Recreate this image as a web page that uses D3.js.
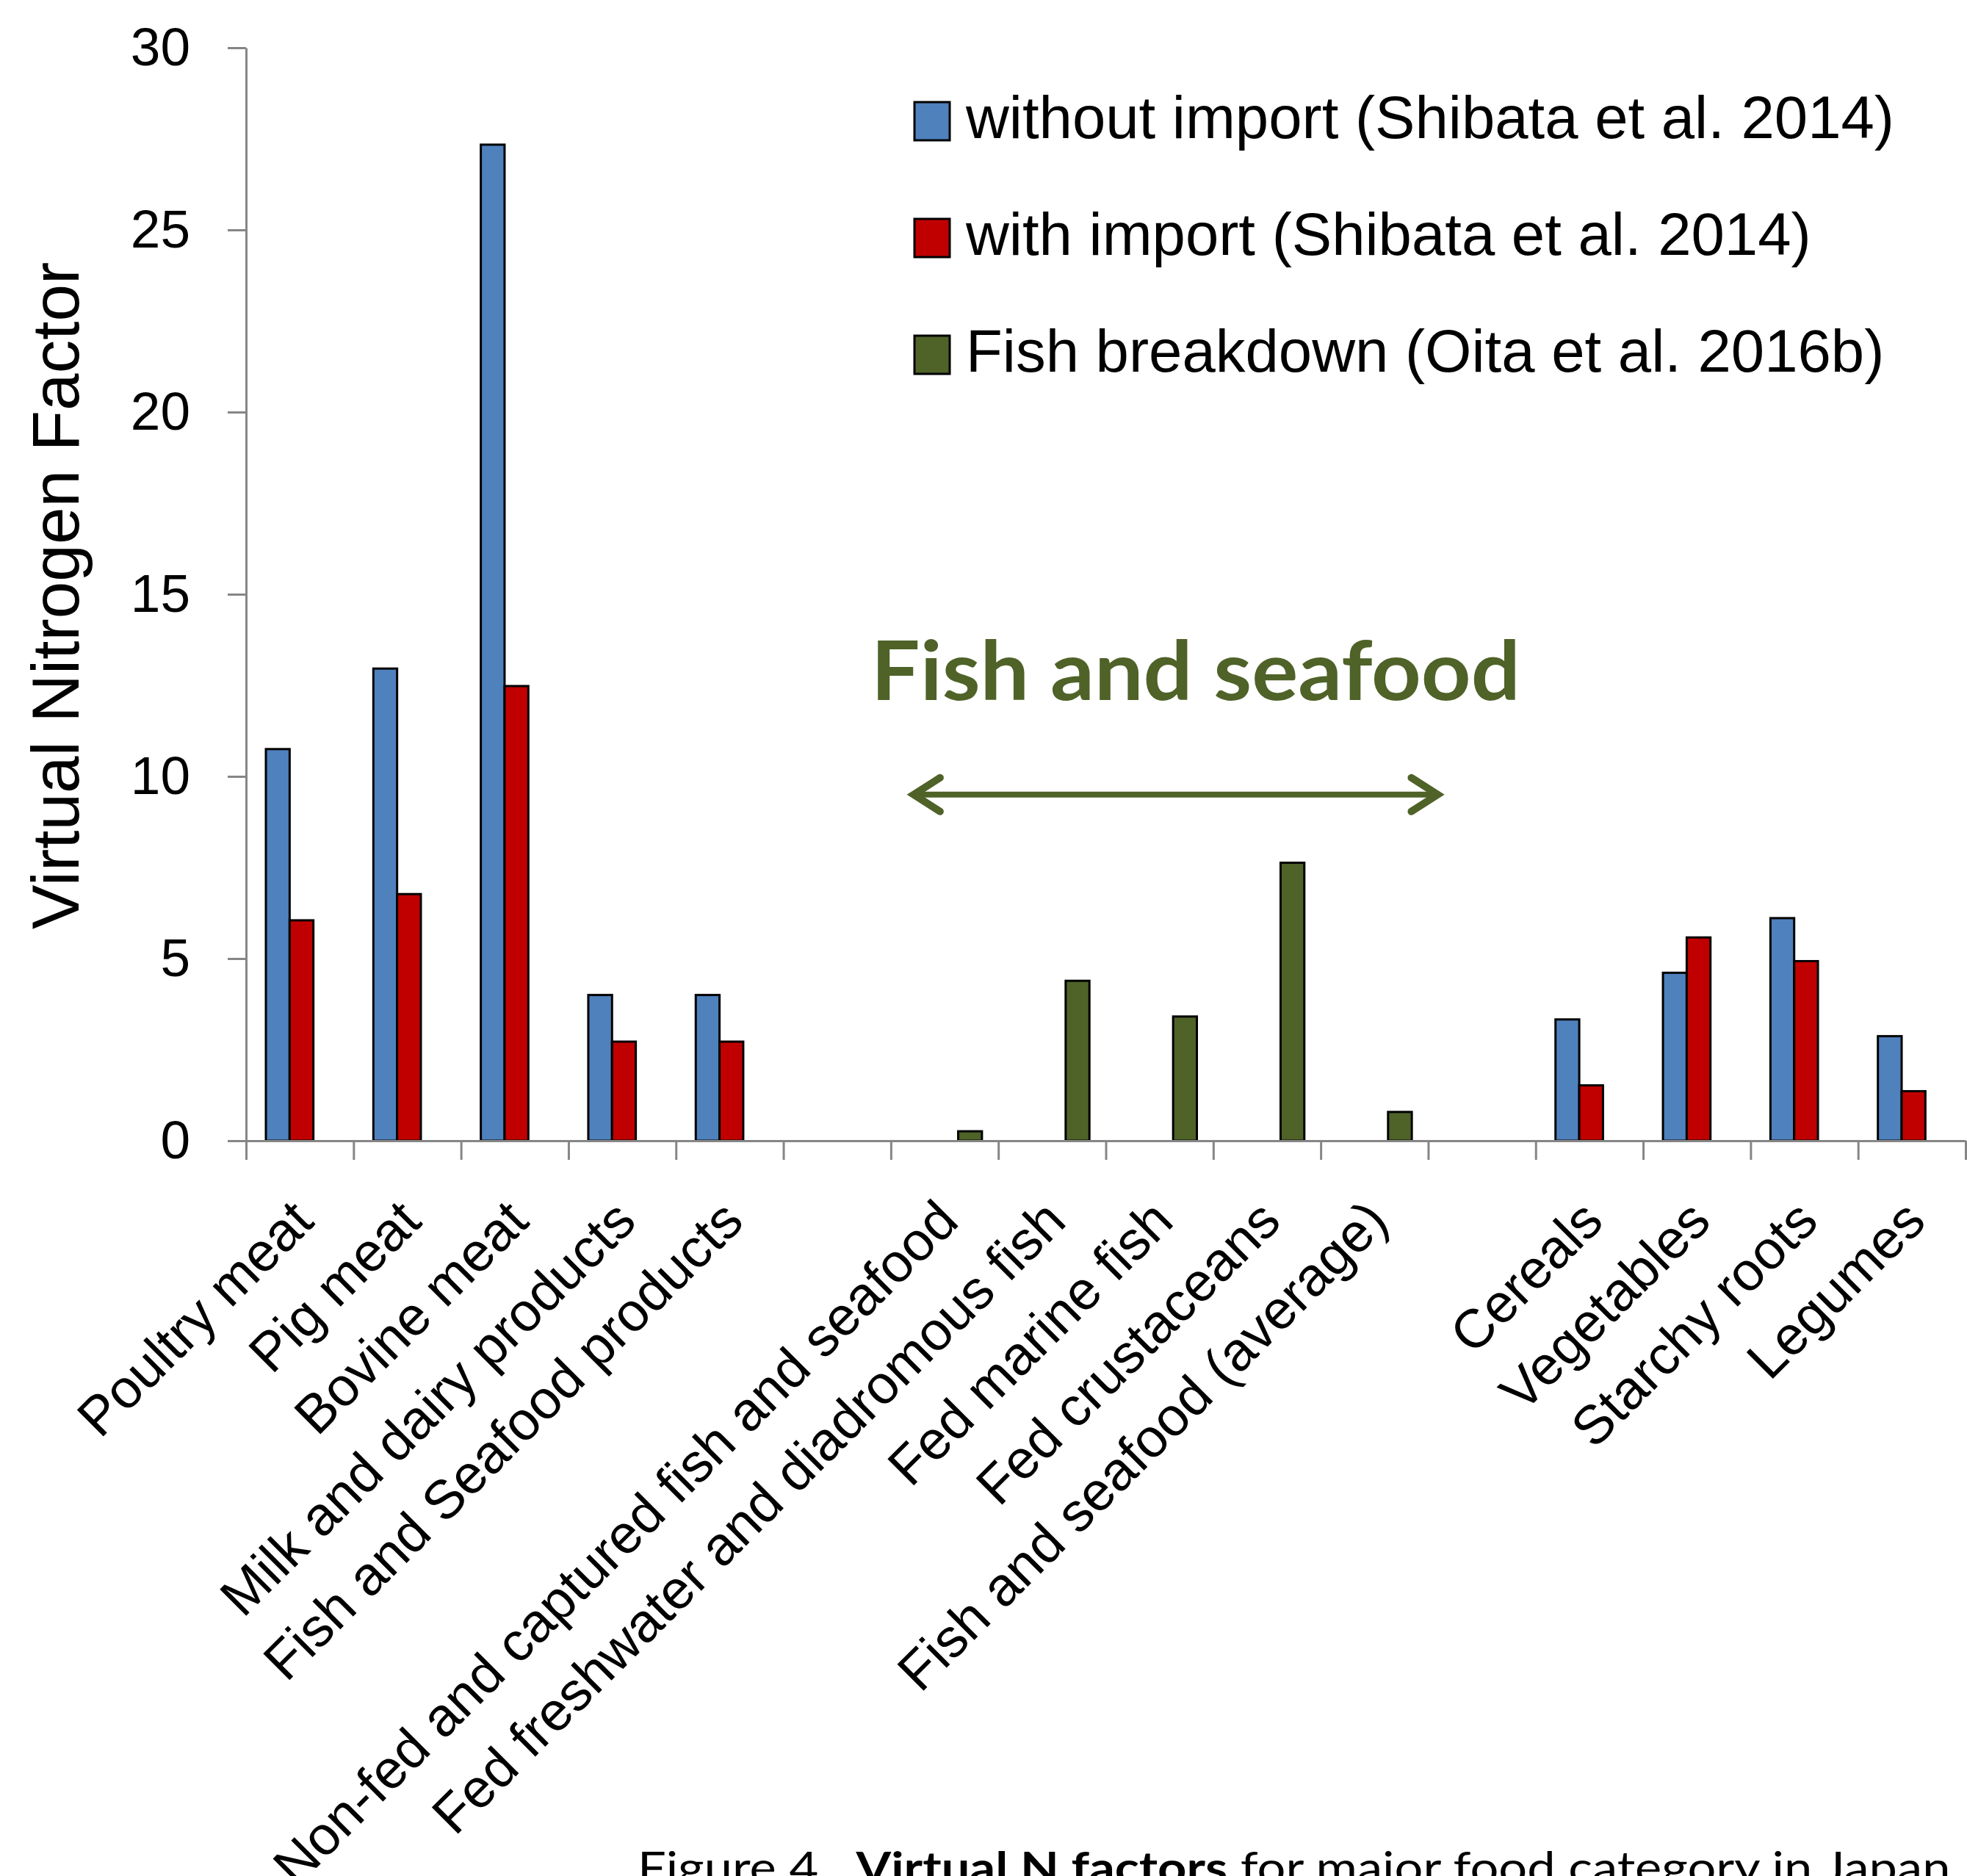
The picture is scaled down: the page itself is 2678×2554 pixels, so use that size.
<!DOCTYPE html>
<html>
<head>
<meta charset="utf-8">
<script src="https://cdn.jsdelivr.net/npm/d3@7"></script>
<style>
  html, body { margin: 0; padding: 0; background: #fff; }
  svg { display: block; }
</style>
</head>
<body>
<script>
// ---------------- DATA ----------------
const categories = [
  "Poultry meat", "Pig meat", "Bovine meat", "Milk and dairy products",
  "Fish and Seafood products", "",
  "Non-fed and captured fish and seafood", "Fed freshwater and diadromous fish",
  "Fed marine fish", "Fed crustaceans", "Fish and seafood (average)", "",
  "Cereals", "Vegetables", "Starchy roots", "Legumes"
];
const withoutImport = [10.75, 12.96, 27.34, 4.0, 4.0, null, null, null, null, null, null, null, 3.33, 4.61, 6.11, 2.87];
const withImport    = [6.05, 6.77, 12.48, 2.72, 2.72, null, null, null, null, null, null, null, 1.52, 5.58, 4.93, 1.36];
const fishBreakdown = [null, null, null, null, null, null, 0.26, 4.39, 3.41, 7.63, 0.79, null, null, null, null, null];
const seriesNames = [
  "without import (Shibata et al. 2014)",
  "with import (Shibata et al. 2014)",
  "Fish breakdown (Oita et al. 2016b)"
];
const seriesColors = ["#4F81BD", "#C00000", "#4F6228"];
const yTicks = [0, 5, 10, 15, 20, 25, 30];
const yTitle = "Virtual Nitrogen Factor";
const annotationText = "Fish and seafood";
const captionParts = [
  {t: "Figure 4.  ", bold: false},
  {t: "Virtual N factors", bold: true},
  {t: " for major food category in Japan", bold: false}
];

// ---------------- CHART ----------------
const W = 2678, H = 2554;
const FONT = "'Liberation Sans', Arial, sans-serif";
const svg = d3.select("body").append("svg").attr("width", W).attr("height", H);
svg.append("rect").attr("width", W).attr("height", H).attr("fill", "#fff");

const series = [withoutImport, withImport, fishBreakdown];
const seriesKeys = d3.range(series.length);

const x = d3.scaleBand().domain(d3.range(categories.length)).range([335, 2676]).paddingInner(0).paddingOuter(0);
const x1 = d3.scaleBand().domain(seriesKeys).range([27, 124]);
const y = d3.scaleLinear().domain([0, 30]).range([1553, 65]);

// bars
const barData = [];
series.forEach((arr, s) => arr.forEach((v, i) => { if (v != null) barData.push({s, i, v}); }));
svg.append("g").selectAll("rect").data(barData).join("rect")
  .attr("x", d => x(d.i) + x1(d.s))
  .attr("y", d => y(d.v))
  .attr("width", x1.bandwidth())
  .attr("height", d => y(0) - y(d.v))
  .attr("fill", d => seriesColors[d.s])
  .attr("stroke", "#000")
  .attr("stroke-width", 3);

// y axis
const gy = svg.append("g").attr("transform", `translate(${x.range()[0]},0)`)
  .call(d3.axisLeft(y).tickValues(yTicks).tickSize(25).tickSizeOuter(0).tickPadding(51));
gy.select(".domain").attr("stroke", "#868686").attr("stroke-width", 3);
gy.selectAll(".tick line").attr("stroke", "#868686").attr("stroke-width", 3);
gy.selectAll(".tick text").attr("font-family", FONT).attr("font-size", 73).attr("fill", "#000");

// x axis (ticks at category boundaries)
const xEdges = d3.scaleLinear().domain([0, categories.length]).range(x.range());
const gx = svg.append("g").attr("transform", `translate(0,${y(0)})`)
  .call(d3.axisBottom(xEdges).tickValues(d3.range(categories.length + 1)).tickSize(26).tickSizeOuter(0).tickFormat(""));
gx.select(".domain").attr("stroke", "#868686").attr("stroke-width", 3);
gx.selectAll(".tick line").attr("stroke", "#868686").attr("stroke-width", 3);

// category labels
svg.append("g").selectAll("text").data(categories).join("text")
  .attr("transform", (d, i) => `translate(${x(i) + x.bandwidth() / 2 + 22},${y(0) + 113}) rotate(-45)`)
  .attr("text-anchor", "end")
  .attr("font-family", FONT).attr("font-size", 74).attr("fill", "#000")
  .text(d => d);

// y title
svg.append("text")
  .attr("transform", `translate(107,${(y(0) + y(30)) / 2 + 2}) rotate(-90)`)
  .attr("text-anchor", "middle")
  .attr("font-family", FONT).attr("font-size", 91).attr("fill", "#000")
  .text(yTitle);

// legend
const lg = svg.append("g").selectAll("g").data(seriesNames).join("g")
  .attr("transform", (d, i) => `translate(1245,${139 + i * 159})`);
lg.append("rect").attr("width", 48).attr("height", 52)
  .attr("fill", (d, i) => seriesColors[i]).attr("stroke", "#000").attr("stroke-width", 3);
lg.append("text").attr("x", 70).attr("y", 49)
  .attr("font-family", FONT).attr("font-size", 81.5).attr("fill", "#000")
  .text(d => d);

// helper: fit text width
function fitWidth(sel, x0, target) {
  const w = sel.node().getBBox().width;
  const s = target / w;
  sel.attr("transform", `translate(${x0},0) scale(${s},1) translate(${-x0},0)`);
}

// annotation
const green = seriesColors[2];
const annX = x(6) - 27;
const ann = svg.append("text")
  .attr("x", annX).attr("y", y(12.1))
  .attr("font-family", "Lato, 'Open Sans', sans-serif").attr("font-weight", "bold")
  .attr("font-size", 112).attr("fill", green)
  .text(annotationText);
fitWidth(ann, annX, 884);

const ay = y(9.5);
const ax1 = x(6) + 27, ax2 = x(10) + x.bandwidth() + 17;
const arrow = svg.append("g").attr("stroke", green).attr("fill", "none");
arrow.append("line").attr("x1", ax1 + 6).attr("x2", ax2 - 6).attr("y1", ay).attr("y2", ay).attr("stroke-width", 8);
arrow.append("polyline").attr("points", `${ax1 + 40},${ay - 23} ${ax1 + 4},${ay} ${ax1 + 40},${ay + 23}`)
  .attr("stroke-width", 10).attr("stroke-linejoin", "miter").attr("stroke-linecap", "round");
arrow.append("polyline").attr("points", `${ax2 - 40},${ay - 23} ${ax2 - 4},${ay} ${ax2 - 40},${ay + 23}`)
  .attr("stroke-width", 10).attr("stroke-linejoin", "miter").attr("stroke-linecap", "round");

// caption (cropped at bottom edge, as in the reference)
const capX = 868;
const cap = svg.append("text").attr("x", capX).attr("y", 2564)
  .attr("font-family", "Lato, 'Open Sans', sans-serif").attr("font-size", 60).attr("fill", "#000")
  .style("white-space", "pre");
cap.selectAll("tspan").data(captionParts).join("tspan")
  .attr("font-weight", d => d.bold ? "bold" : "normal")
  .text(d => d.t);
fitWidth(cap, capX, 1788);
</script>
</body>
</html>
